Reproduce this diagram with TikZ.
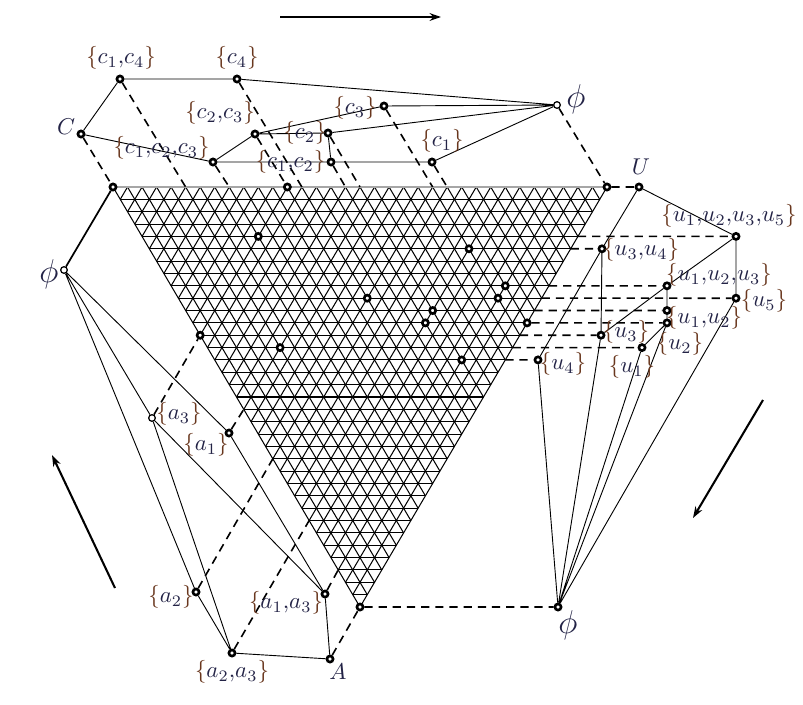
\documentclass[tikz,border=0pt]{standalone}
\usetikzlibrary{arrows.meta}
\definecolor{txt}{RGB}{35,35,70}
\definecolor{brc}{RGB}{105,55,30}
\newcommand{\lset}[1]{$\textcolor{brc}{\{}#1\textcolor{brc}{\}}$}
\newcommand{\emp}{\fontsize{13.5}{15}\selectfont$\phi$}
\newcommand{\cm}{\mathord{,}}
\begin{document}
\begin{tikzpicture}[x=0.4375pt,y=-0.4375pt,
  grid/.style={line width=0.45pt, black},
  tk/.style={circle, draw=black, fill=white, line width=1.15pt, inner sep=0pt, minimum size=2.7pt},
  tn/.style={circle, draw=black, fill=white, line width=0.55pt, inner sep=0pt, minimum size=2.9pt},
  ln/.style={line width=0.4pt},
  thk/.style={line width=0.75pt},
  proj/.style={line width=0.7pt, dash pattern=on 3.6pt off 2.6pt},
  lab/.style={text=txt, inner sep=0pt},
  arr/.style={line width=0.9pt, -{Stealth[length=5pt,width=3.4pt]}}]
\useasboundingbox (0,0) rectangle (803,704);

% grid coordinates
\foreach \k in {0,...,34}{
  \pgfmathtruncatemacro\m{34-\k}
  \foreach \j in {0,...,\m}{
    \coordinate (g-\k-\j) at ({113+7.26471*\k+14.52941*\j},{187+12.35294*\k});
  }
}
% grid lines
\foreach \i in {0,...,34}{
  \pgfmathtruncatemacro\m{34-\i}
  \draw[grid] (g-\i-0) -- (g-\i-\m);
  \draw[grid] (g-0-\i) -- (g-\m-\i);
  \draw[grid] (g-\i-0) -- (g-0-\i);
}
\draw[line width=0.5pt, gray!70] (g-0-0) -- (g-0-34);

% markers on the triangle
\foreach \k/\j in {0/0,0/12,0/34,34/0,4/8,5/22,8/23,9/13,9/22,10/17,11/16,11/23,12/0,13/5,14/17}
  \node[tk] (m-\k-\j) at (g-\k-\j) {};

% C lattice
\node[tk] (C) at (81,134) {};
\node[tk] (c14) at (120,79) {};
\node[tk] (c4) at (237,79) {};
\node[tk] (c23) at (255,134) {};
\node[tk] (c123) at (213,162) {};
\node[tk] (c2) at (328,133) {};
\node[tk] (c12) at (331,162) {};
\node[tk] (c3) at (384,106) {};
\node[tk] (c1) at (432,162) {};
\node[tn] (ce) at (557,105) {};

% U lattice
\node[tk] (U) at (639,187) {};
\node[tk] (u1235) at (736,236.4) {};
\node[tk] (u34) at (602,248.8) {};
\node[tk] (u123) at (667,285.8) {};
\node[tk] (u5) at (736,298.2) {};
\node[tk] (ua) at (667,310.5) {};
\node[tk] (ub) at (667,322.9) {};
\node[tk] (u3) at (601,335.2) {};
\node[tk] (uc) at (642,347.6) {};
\node[tk] (u4) at (538,359.9) {};
\node[tk] (ue) at (558,607) {};

% A lattice
\node[tn] (eL) at (64,270) {};
\node[tn] (a3) at (152,418) {};
\node[tk] (a1) at (229,433) {};
\node[tk] (a2) at (196,592) {};
\node[tk] (a13) at (325,594) {};
\node[tk] (a23) at (232,653) {};
\node[tk] (A) at (330,659) {};

% lattice edges
\draw[ln] (C)--(c14) (c14)--(c4) (c4)--(ce) (C)--(c123) (c123)--(c23)
  (c123)--(c12) (c23)--(c2) (c23)--(c3) (c2)--(c12) (c2)--(ce) (c3)--(ce)
  (c12)--(c1) (c1)--(ce);
\draw[ln] (U)--(u1235) (U)--(u34) (u34)--(u4) (u34)--(u3) (u1235)--(u123)
  (u1235)--(u5) (u123)--(u3) (u123)--(ua) (ua)--(ub) (ub)--(uc) (ub)--(ue)
  (uc)--(ue) (u3)--(ue) (u4)--(ue) (u5)--(ue);
\draw[ln] (eL)--(a1) (eL)--(a2) (eL)--(a3) (a3)--(a13) (a3)--(a23)
  (a1)--(a13) (a2)--(a23) (a13)--(A) (a23)--(A);
\draw[thk] (eL)--(m-0-0);

% projections
\draw[proj] (C)--(m-0-0) (c14)--(g-0-5) (c4)--(g-0-13) (c23)--(m-0-12)
  (c123)--(g-0-8) (c2)--(g-0-17) (c12)--(g-0-16) (c3)--(g-0-22)
  (c1)--(g-0-23) (ce)--(m-0-34);
\draw[proj] (m-0-34)--(U) (g-4-30)--(u1235) (g-5-29)--(u34) (g-8-26)--(u123)
  (g-9-25)--(u5) (g-10-24)--(ua) (m-11-23)--(ub) (g-12-22)--(u3)
  (g-13-21)--(uc) (g-14-20)--(u4) (m-34-0)--(ue);
\draw[proj] (a3)--(m-12-0) (a1)--(g-18-0) (a2)--(g-22-0) (a13)--(g-31-0)
  (a23)--(g-27-0) (A)--(m-34-0);

% labels
\node[lab] (lc14) at (121,58) {\lset{c_1\cm c_4}};
\node[lab] (lc4) at (237,58) {\lset{c_4}};
\node[lab] (lC) at (66,127) {$C$};
\node[lab] (lc23) at (220,113) {\lset{c_2\cm c_3}};
\node[lab] (lc123) at (161.5,148) {\lset{c_1\cm c_2\cm c_3}};
\node[lab] (lc2) at (305,133) {\lset{c_2}};
\node[lab] (lc12) at (290.5,162) {\lset{c_1\cm c_2}};
\node[lab] (lc3) at (355,108) {\lset{c_3}};
\node[lab] (lc1) at (442,141) {\lset{c_1}};
\node[lab] (lce) at (576,99) {\emp};

\node[lab] (lU) at (641,167) {$U$};
\node[lab] (lu1235) at (729,216) {\lset{u_1\cm u_2\cm u_3\cm u_5}};
\node[lab] (lu34) at (641,250) {\lset{u_3\cm u_4}};
\node[lab] (lu123) at (719,275) {\lset{u_1\cm u_2\cm u_3}};
\node[lab] (lu5) at (764,301) {\lset{u_5}};
\node[lab] (lu12) at (704,318) {\lset{u_1\cm u_2}};
\node[lab] (lu3) at (626,332) {\lset{u_3}};
\node[lab] (lu2) at (680,344) {\lset{u_2}};
\node[lab] (lu1) at (632,367) {\lset{u_1}};
\node[lab] (lu4) at (563,364) {\lset{u_4}};
\node[lab] (lue) at (568,625) {\emp};

\node[lab] (leL) at (49,274) {\emp};
\node[lab] (la3) at (179,414) {\lset{a_3}};
\node[lab] (la1) at (206,445) {\lset{a_1}};
\node[lab] (la2) at (171,597) {\lset{a_2}};
\node[lab] (la13) at (286,603) {\lset{a_1\cm a_3}};
\node[lab] (la23) at (232,672) {\lset{a_2\cm a_3}};
\node[lab] (lA) at (338,672) {$A$};

% arrows
\coordinate (t1) at (280,17); \coordinate (t2) at (441,17);
\coordinate (l1) at (115,588); \coordinate (l2) at (52,455);
\coordinate (r1) at (763,400); \coordinate (r2) at (693,518);
\draw[arr] (t1)--(t2);
\draw[arr] (l1)--(l2);
\draw[arr] (r1)--(r2);
\end{tikzpicture}
\end{document}
